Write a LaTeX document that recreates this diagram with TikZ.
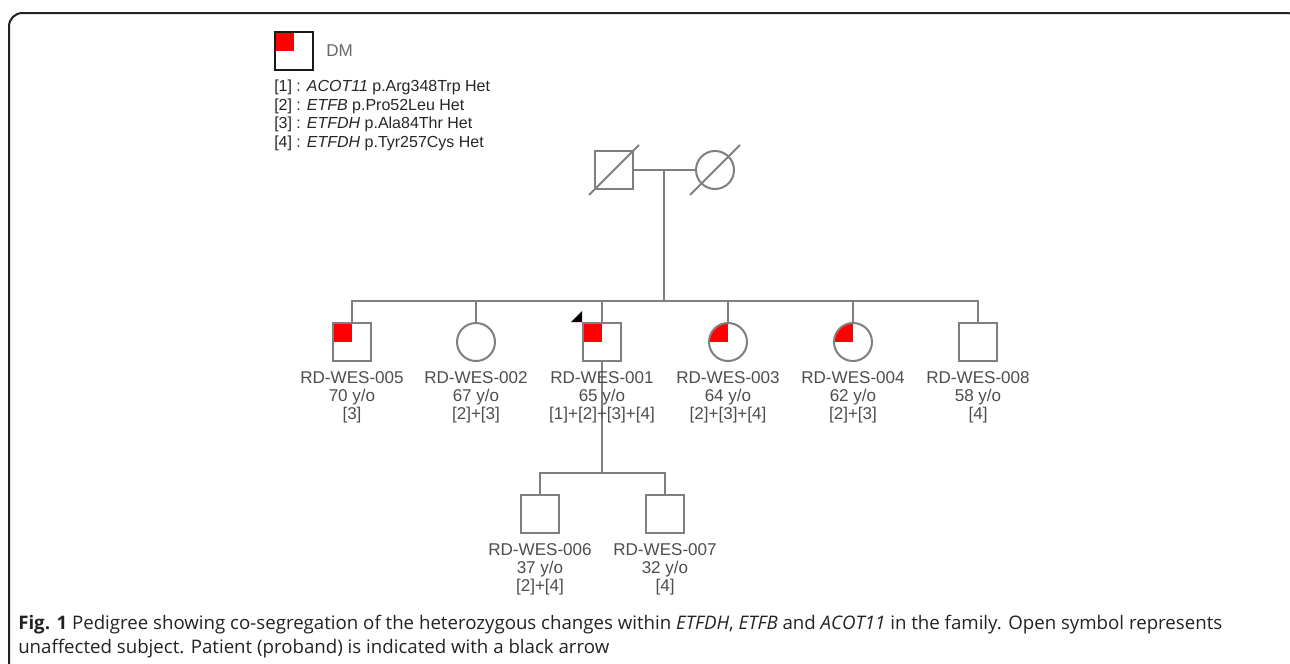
\documentclass[tikz,border=0pt]{standalone}
\usepackage{fontspec}
\setmainfont{Liberation Sans}
\newfontfamily\capfont{Open Sans}
\usetikzlibrary{positioning}
\definecolor{PedGray}{HTML}{7F7F7F}
\definecolor{PedText}{HTML}{4D4D4D}
\definecolor{PedRed}{HTML}{FF0000}
\definecolor{PedFrame}{HTML}{222222}

\begin{document}
\begin{tikzpicture}[
        x=0.75pt,y=-0.75pt,
        node distance=7pt,
        male/.style={rectangle,draw=PedGray,line width=1.5pt,minimum size=28.5pt,inner sep=0pt},
        female/.style={circle,draw=PedGray,line width=1.5pt,minimum size=28.5pt,inner sep=0pt},
        affected/.style={path picture={\fill[PedRed] (path picture bounding box.north west)
          rectangle (path picture bounding box.center);}},
        tag/.style={align=center,inner sep=0pt,text=PedText,font=\fontsize{12.8}{13.5}\selectfont},
        line/.style={draw=PedGray,line width=1.5pt}
      ]
        \useasboundingbox (0,0) rectangle (1290,664);
        \clip (0,0) rectangle (1290,664);
        \draw[PedFrame,line width=1.5pt,rounded corners=10pt] (9,700) -- (9,13) -- (1300,13) -- (1300,700);

        \node[male,draw=black!90,affected] (key) at (294,51) {};
        \node[tag,right=9pt of key,text=PedText!85] (keyname) {DM};
        \node[tag,align=left,text=black!85,font=\fontsize{12}{14}\selectfont,
          below right=6.5pt and 0pt of key.south west] (keylist)
          {[1] : \textit{ACOT11} p.Arg348Trp Het\\{[2]} : \textit{ETFB} p.Pro52Leu Het\\
           {[3]} : \textit{ETFDH} p.Ala84Thr Het\\{[4]} : \textit{ETFDH} p.Tyr257Cys Het};

        \node[male] (gf) at (614,170) {};
        \node[female] (gm) at (715,170) {};
        \draw[line] ([shift={(-25,25)}]gf.center) -- ([shift={(25,-25)}]gf.center);
        \draw[line] ([shift={(-25,25)}]gm.center) -- ([shift={(25,-25)}]gm.center);
        \coordinate (mate) at (664,170);
        \coordinate (sib) at (664,301);
        \draw[line] (gf) -- (gm);
        \draw[line] (mate) -- (sib);

        \node[male,affected] (w005) at (352,342) {};
        \node[female] (w002) at (476,342) {};
        \node[male,affected] (w001) at (602,342) {};
        \node[female,affected] (w003) at (728,342) {};
        \node[female,affected] (w004) at (853,342) {};
        \node[male] (w008) at (978,342) {};
        \draw[line] (w005.north) |- (sib);
        \draw[line] (w002.north) |- (sib);
        \draw[line] (w001.north) |- (sib);
        \draw[line] (w003.north) |- (sib);
        \draw[line] (w004.north) |- (sib);
        \draw[line] (w008.north) |- (sib);
        \fill[black] (w001.north west) -- ++(-11,0) -- ++(11,-11) -- cycle;

        \coordinate (sib2) at (602,473);
        \draw[line] (w001) -- (sib2);
        \node[male] (w006) at (540,514) {};
        \node[male] (w007) at (665,514) {};
        \draw[line] (w006.north) |- (sib2);
        \draw[line] (w007.north) |- (sib2);

        \node[tag,below=of w005] (t005) {RD-WES-005\\70 y/o\\{[3]}};
        \node[tag,below=of w002] (t002) {RD-WES-002\\67 y/o\\{[2]+[3]}};
        \node[tag,below=of w001] (t001) {RD-WES-001\\65 y/o\\{[1]+[2]+[3]+[4]}};
        \node[tag,below=of w003] (t003) {RD-WES-003\\64 y/o\\{[2]+[3]+[4]}};
        \node[tag,below=of w004] (t004) {RD-WES-004\\62 y/o\\{[2]+[3]}};
        \node[tag,below=of w008] (t008) {RD-WES-008\\58 y/o\\{[4]}};
        \node[tag,below=of w006] (t006) {RD-WES-006\\37 y/o\\{[2]+[4]}};
        \node[tag,below=of w007] (t007) {RD-WES-007\\32 y/o\\{[4]}};

        \node[anchor=north west,inner sep=0pt,align=left,text=PedFrame,
          font=\capfont\fontsize{14}{18}\selectfont] (caption) at (18,615)
          {\textbf{Fig. 1} Pedigree showing co-segregation of the heterozygous changes within \textit{ETFDH}, \textit{ETFB} and \textit{ACOT11} in the family. Open symbol represents\\
           unaffected subject. Patient (proband) is indicated with a black arrow};
      \end{tikzpicture}
\end{document}
